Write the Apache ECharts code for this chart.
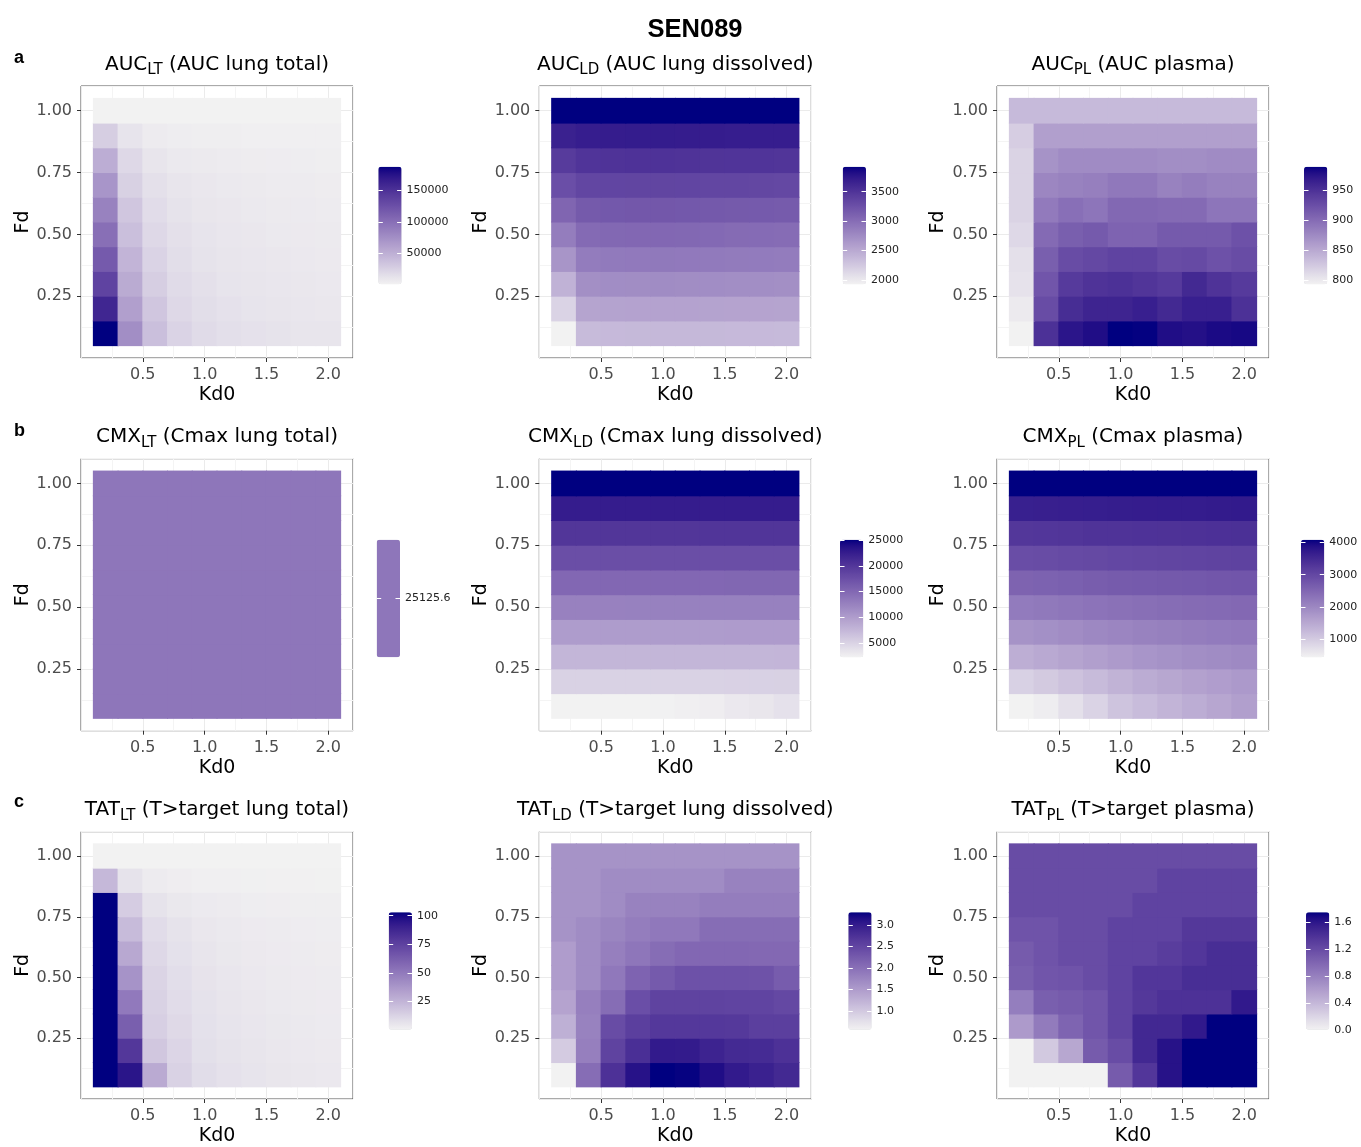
<!DOCTYPE html>
<html><head><meta charset="utf-8">
<script src="https://cdn.jsdelivr.net/npm/echarts@6/dist/echarts.min.js"></script>
<style>html,body{margin:0;padding:0;background:#fff}#c{width:1361px;height:1147px}</style>
</head><body><div id="c"></div><script>
// ---------------- data ----------------
const kd0 = [0.2, 0.4, 0.6, 0.8, 1.0, 1.2, 1.4, 1.6, 1.8, 2.0];
const fd  = [0.1, 0.2, 0.3, 0.4, 0.5, 0.6, 0.7, 0.8, 0.9, 1.0];
const xBreaks = [0.5, 1.0, 1.5, 2.0];
const yBreaks = [0.25, 0.50, 0.75, 1.00];
// each matrix: rows = Fd 0.1 .. 1.0 (bottom to top), columns = Kd0 0.2 .. 2.0
const aucLT = [
 [188000, 75800, 38400, 23400, 17800, 15000, 13200, 11800, 10700, 10000],
 [160000, 62700, 32800, 19700, 16000, 13200, 11300, 10400, 9400, 8500],
 [135600, 53400, 27200, 17800, 14100, 11300, 10400, 9400, 8500, 7700],
 [117000, 45900, 23400, 16000, 12200, 10400, 9400, 8500, 7700, 7000],
 [100100, 38400, 19700, 14100, 11300, 9400, 8500, 7500, 7000, 6600],
 [85200, 32800, 16900, 12200, 9800, 8500, 7500, 6800, 6200, 5900],
 [70200, 25300, 14100, 10400, 8500, 7400, 6600, 6000, 5500, 5100],
 [51500, 19700, 10400, 7500, 6600, 5700, 5100, 4700, 4400, 4000],
 [27200, 11300, 5700, 4400, 3800, 3400, 3200, 3100, 2900, 2900],
 [1000, 1000, 1000, 1000, 1000, 1000, 1000, 1000, 1000, 1000]
];
const aucLD = [
 [1930, 2360, 2370, 2375, 2380, 2380, 2375, 2370, 2370, 2365],
 [2170, 2545, 2555, 2560, 2560, 2560, 2555, 2550, 2550, 2545],
 [2430, 2720, 2735, 2740, 2745, 2740, 2735, 2730, 2725, 2720],
 [2670, 2880, 2895, 2900, 2905, 2900, 2895, 2890, 2885, 2880],
 [2870, 3030, 3045, 3050, 3050, 3045, 3035, 3020, 3015, 3010],
 [3070, 3170, 3185, 3190, 3190, 3185, 3180, 3170, 3165, 3160],
 [3265, 3340, 3350, 3355, 3355, 3350, 3345, 3340, 3335, 3330],
 [3445, 3500, 3510, 3515, 3515, 3510, 3505, 3500, 3500, 3495],
 [3670, 3700, 3705, 3710, 3710, 3705, 3705, 3700, 3700, 3700],
 [3925, 3925, 3925, 3925, 3925, 3925, 3925, 3925, 3925, 3925]
];
const aucPL = [
 [793, 951, 974, 980, 990, 989, 980, 978, 982, 984],
 [799, 927, 955, 962, 962, 966, 958, 966, 966, 951],
 [805, 919, 943, 949, 951, 947, 943, 958, 949, 943],
 [807, 911, 927, 931, 935, 935, 927, 929, 923, 927],
 [813, 901, 911, 915, 907, 907, 915, 915, 915, 923],
 [817, 888, 897, 892, 903, 903, 901, 901, 892, 892],
 [817, 878, 882, 884, 890, 890, 882, 886, 882, 882],
 [817, 868, 874, 874, 874, 874, 872, 872, 874, 874],
 [821, 858, 858, 858, 858, 858, 858, 858, 858, 858],
 [836, 836, 836, 836, 836, 836, 836, 836, 836, 836]
];
const cmxLT = [
 [25125.6, 25125.6, 25125.6, 25125.6, 25125.6, 25125.6, 25125.6, 25125.6, 25125.6, 25125.6],
 [25125.6, 25125.6, 25125.6, 25125.6, 25125.6, 25125.6, 25125.6, 25125.6, 25125.6, 25125.6],
 [25125.6, 25125.6, 25125.6, 25125.6, 25125.6, 25125.6, 25125.6, 25125.6, 25125.6, 25125.6],
 [25125.6, 25125.6, 25125.6, 25125.6, 25125.6, 25125.6, 25125.6, 25125.6, 25125.6, 25125.6],
 [25125.6, 25125.6, 25125.6, 25125.6, 25125.6, 25125.6, 25125.6, 25125.6, 25125.6, 25125.6],
 [25125.6, 25125.6, 25125.6, 25125.6, 25125.6, 25125.6, 25125.6, 25125.6, 25125.6, 25125.6],
 [25125.6, 25125.6, 25125.6, 25125.6, 25125.6, 25125.6, 25125.6, 25125.6, 25125.6, 25125.6],
 [25125.6, 25125.6, 25125.6, 25125.6, 25125.6, 25125.6, 25125.6, 25125.6, 25125.6, 25125.6],
 [25125.6, 25125.6, 25125.6, 25125.6, 25125.6, 25125.6, 25125.6, 25125.6, 25125.6, 25125.6],
 [25125.6, 25125.6, 25125.6, 25125.6, 25125.6, 25125.6, 25125.6, 25125.6, 25125.6, 25125.6]
];
const cmxLD = [
 [2180, 2185, 2195, 2210, 2240, 2400, 2550, 3000, 3250, 3700],
 [5030, 5030, 5040, 5040, 5050, 5060, 5080, 5100, 5130, 5160],
 [7540, 7540, 7545, 7545, 7550, 7555, 7560, 7570, 7580, 7590],
 [10050, 10050, 10050, 10055, 10055, 10060, 10065, 10070, 10075, 10080],
 [12560, 12560, 12560, 12565, 12565, 12570, 12570, 12575, 12580, 12585],
 [15075, 15075, 15075, 15078, 15080, 15082, 15085, 15088, 15090, 15092],
 [17590, 17590, 17590, 17592, 17594, 17596, 17598, 17600, 17602, 17604],
 [20100, 20100, 20100, 20102, 20104, 20106, 20108, 20110, 20112, 20114],
 [22610, 22610, 22610, 22612, 22613, 22614, 22615, 22616, 22617, 22618],
 [25125.6, 25125.6, 25125.6, 25125.6, 25125.6, 25125.6, 25125.6, 25125.6, 25125.6, 25125.6]
];
const cmxPL = [
 [430, 500, 690, 870, 1090, 1200, 1310, 1420, 1530, 1640],
 [900, 1000, 1110, 1220, 1330, 1430, 1520, 1600, 1660, 1720],
 [1400, 1480, 1560, 1640, 1710, 1780, 1840, 1890, 1930, 1970],
 [1820, 1870, 1920, 1980, 2030, 2070, 2110, 2150, 2180, 2210],
 [2180, 2220, 2260, 2300, 2340, 2370, 2400, 2430, 2450, 2470],
 [2550, 2580, 2610, 2650, 2680, 2700, 2720, 2740, 2760, 2780],
 [2900, 2920, 2950, 2980, 3000, 3020, 3040, 3060, 3070, 3090],
 [3260, 3280, 3300, 3320, 3330, 3340, 3350, 3360, 3370, 3380],
 [3640, 3650, 3660, 3670, 3680, 3690, 3700, 3700, 3710, 3720],
 [4090, 4090, 4090, 4090, 4090, 4090, 4090, 4090, 4090, 4090]
];
const tatLT = [
 [103, 95, 29, 13, 8.5, 6.8, 5.6, 4.8, 4.2, 3.7],
 [103, 80, 17, 11.5, 7.5, 6, 5, 4.2, 3.7, 3.3],
 [103, 62, 14, 10, 7, 5.5, 4.6, 3.9, 3.4, 3],
 [103, 50, 13, 9, 6.5, 5.1, 4.2, 3.6, 3.1, 2.8],
 [103, 39, 12, 8, 5.8, 4.6, 3.8, 3.2, 2.8, 2.5],
 [103, 30, 10.5, 7, 5, 4, 3.3, 2.8, 2.5, 2.2],
 [103, 22, 9, 6, 4.3, 3.4, 2.8, 2.4, 2.1, 1.9],
 [103, 15, 6, 4, 3, 2.4, 2, 1.7, 1.5, 1.3],
 [23, 6, 2.5, 1.8, 1.2, 1, 0.8, 0.7, 0.6, 0.5],
 [0, 0, 0, 0, 0, 0, 0, 0, 0, 0]
];
const tatLD = [
 [0.56, 2.03, 2.74, 3.10, 3.29, 3.27, 3.15, 3.02, 2.94, 2.85],
 [0.97, 1.82, 2.53, 2.77, 3.02, 3.01, 2.91, 2.83, 2.82, 2.74],
 [1.27, 1.79, 2.42, 2.58, 2.66, 2.66, 2.66, 2.65, 2.58, 2.58],
 [1.41, 1.82, 2.03, 2.39, 2.53, 2.53, 2.53, 2.52, 2.52, 2.47],
 [1.49, 1.68, 1.90, 2.14, 2.25, 2.36, 2.36, 2.36, 2.35, 2.23],
 [1.49, 1.68, 1.82, 1.93, 2.03, 2.09, 2.09, 2.09, 2.08, 2.08],
 [1.60, 1.68, 1.76, 1.84, 1.90, 1.90, 2.03, 2.03, 2.03, 2.03],
 [1.60, 1.60, 1.68, 1.79, 1.79, 1.79, 1.84, 1.84, 1.84, 1.84],
 [1.60, 1.60, 1.68, 1.68, 1.68, 1.68, 1.68, 1.79, 1.79, 1.79],
 [1.60, 1.60, 1.60, 1.60, 1.60, 1.60, 1.60, 1.60, 1.60, 1.60]
];
const tatPL = [
 [0, 0, 0, 0, 1.08, 1.36, 1.63, 1.75, 1.75, 1.75],
 [0, 0.28, 0.52, 1.08, 1.19, 1.47, 1.63, 1.75, 1.75, 1.75],
 [0.61, 0.84, 1.01, 1.12, 1.26, 1.47, 1.47, 1.58, 1.75, 1.75],
 [0.82, 1.05, 1.08, 1.12, 1.26, 1.35, 1.40, 1.40, 1.40, 1.58],
 [1.05, 1.12, 1.14, 1.19, 1.26, 1.36, 1.36, 1.43, 1.43, 1.43],
 [1.08, 1.14, 1.19, 1.19, 1.26, 1.26, 1.31, 1.36, 1.43, 1.43],
 [1.14, 1.14, 1.19, 1.19, 1.26, 1.26, 1.26, 1.35, 1.35, 1.35],
 [1.19, 1.19, 1.19, 1.19, 1.19, 1.26, 1.26, 1.26, 1.26, 1.26],
 [1.19, 1.19, 1.19, 1.19, 1.19, 1.19, 1.26, 1.26, 1.26, 1.26],
 [1.19, 1.19, 1.19, 1.19, 1.19, 1.19, 1.19, 1.19, 1.19, 1.19]
];
// legend (colour bar) tick labels
const aucLTBreaks = [50000, 100000, 150000];
const aucLDBreaks = [2000, 2500, 3000, 3500];
const aucPLBreaks = [800, 850, 900, 950];
const cmxLTBreaks = [25125.6];
const cmxLDBreaks = [5000, 10000, 15000, 20000, 25000];
const cmxPLBreaks = [1000, 2000, 3000, 4000];
const tatLTBreaks = [25, 50, 75, 100];
const tatLDBreaks = [1.0, 1.5, 2.0, 2.5, 3.0];
const tatPLBreaks = [0.0, 0.4, 0.8, 1.2, 1.6];
const titleParts = [
 ['AUC', 'LT', ' (AUC lung total)'], ['AUC', 'LD', ' (AUC lung dissolved)'], ['AUC', 'PL', ' (AUC plasma)'],
 ['CMX', 'LT', ' (Cmax lung total)'], ['CMX', 'LD', ' (Cmax lung dissolved)'], ['CMX', 'PL', ' (Cmax plasma)'],
 ['TAT', 'LT', ' (T>target lung total)'], ['TAT', 'LD', ' (T>target lung dissolved)'], ['TAT', 'PL', ' (T>target plasma)']
];
const rowLetters = ['a', 'b', 'c'];
const mainTitle = 'SEN089';

// ---------------- styling / layout ----------------
const FONT = "'DejaVu Sans', 'Liberation Sans', sans-serif";
const FONT_B = "'Liberation Sans', Arial, Helvetica, sans-serif";
const LOW = '#F2F2F2', HIGH = '#000080';
const colLeft = [81, 539.3, 997];
const rowTop = [86, 458.7, 831.7];
const PS = 272;
const legLeft = [378.3, 842.7, 1304, 376.7, 840, 1301, 388.7, 848.3, 1306];
const legTop = [166.7, 539.7, 912.3];
const LEGW = 23.3, LEGH = 117.5;
const fdGap = [46.5, 49, 49];
const letterTop = [47.7, 421.4, 791.7];
const X_DOM = [0, 2.2], Y_DOM = [0, 1.1];

// CIELAB interpolation (like ggplot2's gradient)
function hex2rgb(h) { return [parseInt(h.slice(1, 3), 16), parseInt(h.slice(3, 5), 16), parseInt(h.slice(5, 7), 16)]; }
function rgb2lab(c) {
  const f = v => { v /= 255; return v <= 0.04045 ? v / 12.92 : Math.pow((v + 0.055) / 1.055, 2.4); };
  const R = f(c[0]), G = f(c[1]), B = f(c[2]);
  const X = (R * 0.4124 + G * 0.3576 + B * 0.1805) / 0.95047;
  const Y = (R * 0.2126 + G * 0.7152 + B * 0.0722);
  const Z = (R * 0.0193 + G * 0.1192 + B * 0.9505) / 1.08883;
  const g = t => t > 0.008856 ? Math.cbrt(t) : (7.787 * t + 16 / 116);
  const fx = g(X), fy = g(Y), fz = g(Z);
  return [116 * fy - 16, 500 * (fx - fy), 200 * (fy - fz)];
}
function lab2rgb(l) {
  const fy = (l[0] + 16) / 116, fx = fy + l[1] / 500, fz = fy - l[2] / 200;
  const h = t => t * t * t > 0.008856 ? t * t * t : (t - 16 / 116) / 7.787;
  const X = h(fx) * 0.95047, Y = h(fy), Z = h(fz) * 1.08883;
  const R = X * 3.2406 + Y * -1.5372 + Z * -0.4986;
  const G = X * -0.9689 + Y * 1.8758 + Z * 0.0415;
  const B = X * 0.0557 + Y * -0.2040 + Z * 1.0570;
  const f = v => { v = v <= 0.0031308 ? 12.92 * v : 1.055 * Math.pow(v, 1 / 2.4) - 0.055; return Math.max(0, Math.min(255, Math.round(v * 255))); };
  return 'rgb(' + f(R) + ',' + f(G) + ',' + f(B) + ')';
}
const labLo = rgb2lab(hex2rgb(LOW)), labHi = rgb2lab(hex2rgb(HIGH));
function ramp(t) { return lab2rgb([0, 1, 2].map(k => labLo[k] + (labHi[k] - labLo[k]) * t)); }
const stops = [];
for (let k = 0; k <= 40; k++) stops.push(ramp(k / 40));
const midColor = ramp(0.5);

const panels = [
  { data: aucLT, breaks: aucLTBreaks, dec: 0 },
  { data: aucLD, breaks: aucLDBreaks, dec: 0 },
  { data: aucPL, breaks: aucPLBreaks, dec: 0 },
  { data: cmxLT, breaks: cmxLTBreaks, dec: 1 },
  { data: cmxLD, breaks: cmxLDBreaks, dec: 0 },
  { data: cmxPL, breaks: cmxPLBreaks, dec: 0 },
  { data: tatLT, breaks: tatLTBreaks, dec: 0 },
  { data: tatLD, breaks: tatLDBreaks, dec: 1 },
  { data: tatPL, breaks: tatPLBreaks, dec: 1 }
];

const grid = [], xAxis = [], yAxis = [], series = [], visualMap = [], title = [];
const halfX = (kd0[1] - kd0[0]) / 2, halfY = (fd[1] - fd[0]) / 2;

title.push({ text: mainTitle, left: 695, top: 15, textAlign: 'center', padding: 0,
  textStyle: { fontFamily: FONT_B, fontSize: 25.5, fontWeight: 'bold', color: '#000', lineHeight: 30 } });
rowLetters.forEach((l, r) => title.push({ text: l, left: 14, top: letterTop[r], padding: 0,
  textStyle: { fontFamily: FONT_B, fontSize: 18, fontWeight: 'bold', color: '#000', lineHeight: 20 } }));

function renderCell(params, api) {
  const x = api.value(0), y = api.value(1);
  const p0 = api.coord([x - halfX, y + halfY]);
  const s = api.size([2 * halfX, 2 * halfY]);
  return { type: 'rect', shape: { x: p0[0] - 0.5, y: p0[1] - 0.5, width: s[0] + 1, height: s[1] + 1 },
    style: { fill: api.visual('color') } };
}

panels.forEach((p, i) => {
  const r = Math.floor(i / 3), c = i % 3;
  const L = colLeft[c], T = rowTop[r];
  const flat = [].concat(...p.data);
  let lo = Math.min(...flat), hi = Math.max(...flat);
  const constant = hi === lo;
  if (constant) { lo -= 1; hi += 1; }

  grid.push({ left: L, top: T, width: PS, height: PS, show: true, borderColor: '#555', borderWidth: 1, backgroundColor: '#fff' });
  grid.push({ left: legLeft[i], top: legTop[r], width: LEGW, height: LEGH });
  const g0 = 2 * i;

  xAxis.push({ gridIndex: g0, type: 'value', min: X_DOM[0], max: X_DOM[1], interval: 0.25, position: 'top',
    axisLine: { show: false }, axisTick: { show: false }, axisLabel: { show: false },
    splitLine: { show: true, lineStyle: { color: ['#EBEBEB', '#F4F4F4'], width: 1 } } });
  xAxis.push({ gridIndex: g0, type: 'value', min: X_DOM[0], max: X_DOM[1], position: 'bottom',
    axisLine: { show: false },
    axisTick: { show: true, customValues: xBreaks, length: 4, lineStyle: { color: '#333', width: 1 } },
    axisLabel: { customValues: xBreaks, formatter: v => v.toFixed(1), fontSize: 16, color: '#4D4D4D', margin: 9, fontFamily: FONT },
    splitLine: { show: false },
    name: 'Kd0', nameLocation: 'middle', nameGap: 28, nameTextStyle: { fontSize: 19, color: '#000', fontFamily: FONT } });
  xAxis.push({ gridIndex: g0 + 1, type: 'value', min: 0, max: 1, show: false });

  yAxis.push({ gridIndex: g0, type: 'value', min: Y_DOM[0], max: Y_DOM[1], interval: 0.125, position: 'right',
    axisLine: { show: false }, axisTick: { show: false }, axisLabel: { show: false },
    splitLine: { show: true, lineStyle: { color: ['#EBEBEB', '#F4F4F4'], width: 1 } } });
  yAxis.push({ gridIndex: g0, type: 'value', min: Y_DOM[0], max: Y_DOM[1], position: 'left',
    axisLine: { show: false },
    axisTick: { show: true, customValues: yBreaks, length: 4, lineStyle: { color: '#333', width: 1 } },
    axisLabel: { customValues: yBreaks, formatter: v => v.toFixed(2), fontSize: 16, color: '#4D4D4D', margin: 9, fontFamily: FONT },
    splitLine: { show: false },
    name: 'Fd', nameLocation: 'middle', nameGap: fdGap[c], nameTextStyle: { fontSize: 19, color: '#000', fontFamily: FONT } });
  const fmt = v => v.toFixed(p.dec);
  yAxis.push({ gridIndex: g0 + 1, type: 'value', min: lo, max: hi, position: 'left', z: 10,
    axisLine: { show: false }, splitLine: { show: false }, axisLabel: { show: false },
    axisTick: { show: true, inside: true, length: 4.5, customValues: p.breaks, lineStyle: { color: '#fff', width: 1 } } });
  yAxis.push({ gridIndex: g0 + 1, type: 'value', min: lo, max: hi, position: 'right', z: 10,
    axisLine: { show: false }, splitLine: { show: false },
    axisTick: { show: true, inside: true, length: 4.5, customValues: p.breaks, lineStyle: { color: '#fff', width: 1 } },
    axisLabel: { show: true, customValues: p.breaks, formatter: fmt, fontSize: 11, color: '#222', margin: 5, fontFamily: FONT } });

  const cells = [];
  p.data.forEach((row, ri) => row.forEach((v, ci) => cells.push([kd0[ci], fd[ri], v])));
  series.push({ type: 'custom', xAxisIndex: 3 * i + 1, yAxisIndex: 4 * i + 1, data: cells,
    encode: { x: 0, y: 1 }, renderItem: renderCell, silent: true, animation: false });

  visualMap.push({ type: 'continuous', seriesIndex: i, dimension: 2, min: lo, max: hi,
    calculable: false, hoverLink: false, orient: 'vertical', left: legLeft[i], top: legTop[r],
    itemWidth: LEGW, itemHeight: LEGH, padding: 0, text: null,
    inRange: { color: constant ? [midColor, midColor] : stops } });

  const tp = titleParts[i];
  title.push({ text: '{m|' + tp[0] + '}{s|' + tp[1] + '}{m|' + tp[2] + '}', left: L + PS / 2, top: T - 34.5,
    textAlign: 'center', padding: 0,
    textStyle: { fontWeight: 'normal', rich: {
      m: { fontFamily: FONT, fontSize: 20, fontWeight: 'normal', color: '#000', lineHeight: 26 },
      s: { fontFamily: FONT, fontSize: 15, fontWeight: 'normal', color: '#000', lineHeight: 14, verticalAlign: 'bottom' } } } });
});

const chart = echarts.init(document.getElementById('c'), null, { renderer: 'canvas', width: 1361, height: 1147 });
chart.setOption({ animation: false, backgroundColor: '#fff', title, grid, xAxis, yAxis, series, visualMap });
</script></body></html>
